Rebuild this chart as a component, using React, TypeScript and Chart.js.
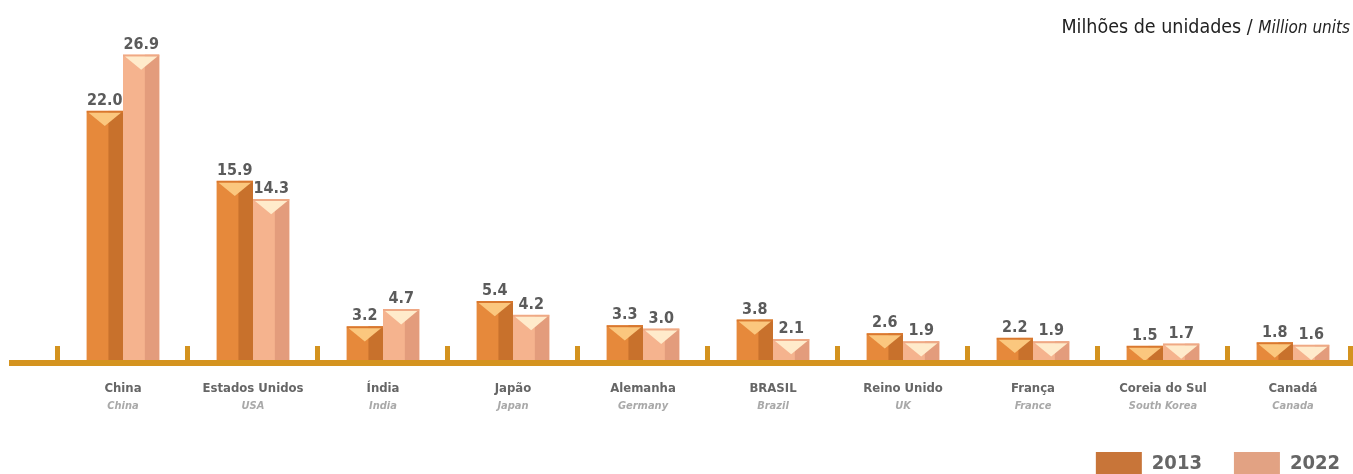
import React, { useEffect, useRef } from "react";
import { Chart, registerables } from "chart.js";

Chart.register(...registerables);

const categoriesPt = ["China", "Estados Unidos", "Índia", "Japão", "Alemanha", "BRASIL", "Reino Unido", "França", "Coreia do Sul", "Canadá"];
const categoriesEn = ["China", "USA", "India", "Japan", "Germany", "Brazil", "UK", "France", "South Korea", "Canada"];
const values2013 = [22.0, 15.9, 3.2, 5.4, 3.3, 3.8, 2.6, 2.2, 1.5, 1.8];
const values2022 = [26.9, 14.3, 4.7, 4.2, 3.0, 2.1, 1.9, 1.9, 1.7, 1.6];
const seriesLabels = ["2013", "2022"];
const unitTitle = "Milhões de unidades / ";
const unitTitleEn = "Million units";

const COND = "'Liberation Sans Narrow', 'DejaVu Sans Condensed', 'Roboto', sans-serif";
const AXIS_COLOR = "#D4931F";
const W = 1372;
const H = 486;

const decorPlugin = {
  id: "decor",
  afterDatasetsDraw(chart: any) {
    const ctx = chart.ctx;
    const shades = [
      { dark: "#C8712C", light: "#FBC77E", edge: "#D9782F" },
      { dark: "#E39C7C", light: "#FFEBCB", edge: "#EFA985" },
    ];
    chart.data.datasets.forEach((ds: any, di: number) => {
      const meta = chart.getDatasetMeta(di);
      meta.data.forEach((bar: any, i: number) => {
        const { x, y, base, width } = bar.getProps(["x", "y", "base", "width"], true);
        const left = x - width / 2;
        const right = x + width / 2;
        const sh = shades[di];
        ctx.save();
        ctx.beginPath();
        ctx.rect(left, y, width, base - y);
        ctx.clip();
        ctx.fillStyle = sh.dark;
        ctx.fillRect(left + width * 0.6, y, width * 0.4, base - y);
        ctx.fillStyle = sh.edge;
        ctx.fillRect(left, y, width, 2);
        ctx.fillStyle = sh.light;
        ctx.beginPath();
        ctx.moveTo(left + 2, y + 2);
        ctx.lineTo(right - 2, y + 2);
        ctx.lineTo(x, y + width * 0.42);
        ctx.closePath();
        ctx.fill();
        ctx.restore();
        ctx.save();
        ctx.fillStyle = "#5B5B5B";
        ctx.font = "bold 16px " + COND;
        ctx.textAlign = "center";
        ctx.textBaseline = "bottom";
        ctx.fillText(ds.data[i].toFixed(1), x, y - 2);
        ctx.restore();
      });
    });
    const xs = chart.scales.x;
    const step = xs.getPixelForValue(1) - xs.getPixelForValue(0);
    const axisY = chart.chartArea.bottom;
    ctx.save();
    ctx.fillStyle = AXIS_COLOR;
    ctx.fillRect(9, axisY - 3, chart.width, 6);
    for (let i = -1; i < categoriesPt.length; i++) {
      let px = xs.getPixelForValue(i) + step / 2;
      if (px > 1350) px = 1351;
      ctx.fillRect(Math.round(px) - 3, axisY - 17, 5, 16);
    }
    ctx.restore();
    ctx.save();
    ctx.fillStyle = "#222";
    ctx.textBaseline = "alphabetic";
    ctx.textAlign = "right";
    ctx.font = "italic 17px " + COND;
    const enW = ctx.measureText(unitTitleEn).width;
    ctx.fillText(unitTitleEn, 1350, 33);
    ctx.font = "19.5px " + COND;
    ctx.fillText(unitTitle, 1350 - enW, 33);
    ctx.restore();
  },
};

export default function App() {
  const ref = useRef<HTMLCanvasElement | null>(null);
  useEffect(() => {
    if (!ref.current) return;
    const chart = new Chart(ref.current, {
      type: "bar",
      data: {
        labels: categoriesPt,
        datasets: [
          { label: seriesLabels[0], data: values2013, backgroundColor: "#E6893B", borderWidth: 0 },
          { label: seriesLabels[1], data: values2022, backgroundColor: "#F5B38E", borderWidth: 0 },
        ],
      },
      options: {
        responsive: false,
        animation: false,
        layout: { padding: { left: 58, right: 0, top: 19, bottom: 0 } },
        datasets: { bar: { categoryPercentage: 0.56, barPercentage: 1 } },
        scales: {
          y: { display: false, min: 0, max: 30 },
          yR: {
            position: "right",
            display: true,
            grid: { display: false, drawTicks: false },
            border: { display: false },
            ticks: { display: false },
            afterFit: (s: any) => { s.width = 14; },
          },
          x: {
            position: "bottom",
            grid: { display: false, drawTicks: false },
            border: { display: false },
            ticks: { color: "#666", font: { family: COND, weight: "bold", size: 13 }, padding: 18, maxRotation: 0, autoSkip: false },
            afterFit: (s: any) => { s.height = 34; },
          },
          x2: {
            type: "category",
            labels: categoriesEn,
            position: "bottom",
            grid: { display: false, drawTicks: false },
            border: { display: false },
            ticks: { color: "#A9A9A9", font: { family: COND, weight: "bold", style: "italic", size: 11 }, padding: 3, maxRotation: 0, autoSkip: false },
            afterFit: (s: any) => { s.height = 23; },
          },
        },
        plugins: {
          legend: {
            position: "bottom",
            align: "end",
            labels: {
              boxWidth: 46,
              boxHeight: 24,
              padding: 32,
              color: "#666",
              font: { family: COND, weight: "bold", size: 20 },
              generateLabels: (c: any) =>
                c.data.datasets.map((d: any, i: number) => ({
                  text: d.label,
                  fillStyle: ["#C87539", "#E2A283"][i],
                  strokeStyle: "transparent",
                  lineWidth: 0,
                  datasetIndex: i,
                  fontColor: "#666",
                })),
            },
          },
          tooltip: { enabled: false },
        },
      },
      plugins: [decorPlugin],
    });
    return () => chart.destroy();
  }, []);
  return (
    <div style={{ position: "fixed", left: 0, top: 0, width: W, height: H, background: "#fff" }}>
      <canvas ref={ref} width={W} height={H} style={{ width: W, height: H, display: "block" }} />
    </div>
  );
}
